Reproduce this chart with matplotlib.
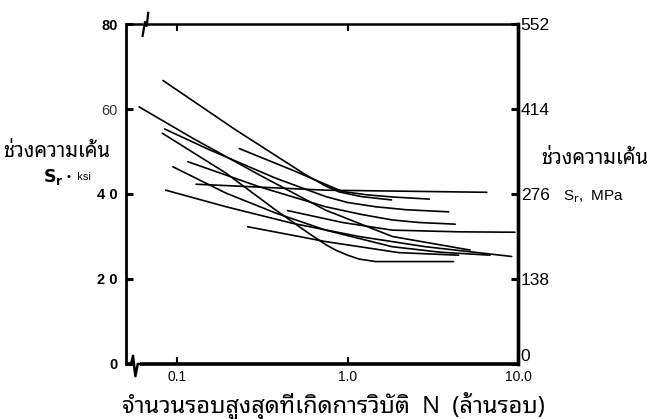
import matplotlib
matplotlib.use("Agg")
import matplotlib.pyplot as plt

plt.rcParams["font.family"] = ["Liberation Sans", "DejaVu Sans"]
THAI = ["Noto Sans Thai Looped", "Loma", "DejaVu Sans"]

# S-N curves: cycles to failure (millions) vs stress range (ksi)
n1 = [0.0825, 0.22, 0.568, 0.75, 0.89, 1.2, 1.81]
s1 = [66.7, 55.1, 44.5, 41.8, 40.5, 39.4, 38.6]
n2 = [0.0597, 0.1235, 0.303, 0.743, 1.83, 5.24]
s2 = [60.5, 53.1, 44.5, 36.2, 30.0, 26.8]
n3 = [0.0843, 0.1546, 0.379, 0.743, 1.0, 1.458, 2.2, 3.92]
s3 = [55.3, 50.4, 43.7, 39.4, 38.0, 37.0, 36.3, 35.8]
n4 = [0.0817, 0.1934, 0.379, 0.594, 0.75, 0.851, 1.0, 1.165, 1.458, 4.19]
s4 = [54.3, 44.9, 36.2, 30.7, 28.0, 26.8, 25.6, 24.7, 24.1, 24.1]
n5 = [0.231, 0.475, 0.93, 1.3, 1.83, 3.02]
s5 = [50.7, 45.6, 40.6, 39.8, 39.3, 38.8]
n6 = [0.1154, 0.303, 0.743, 1.2, 1.825, 2.6, 4.28]
s6 = [47.6, 41.7, 37.0, 35.2, 33.9, 33.3, 32.9]
n7 = [0.0943, 0.1934, 0.379, 0.743, 1.825, 3.5, 6.86]
s7 = [46.4, 40.2, 35.5, 31.5, 27.6, 26.3, 25.6]
n8 = [0.129, 0.743, 6.56]
s8 = [42.3, 40.9, 40.4]
n9 = [0.0855, 0.1934, 0.475, 1.165, 2.86, 9.18]
s9 = [40.9, 37.0, 33.1, 30.0, 27.6, 25.3]
n10 = [0.259, 0.743, 2.0, 4.48]
s10 = [32.3, 28.8, 26.2, 25.6]
n11 = [0.444, 0.931, 1.825, 4.48, 9.6]
s11 = [36.1, 33.3, 31.5, 31.1, 31.0]

curves = [(n1, s1), (n2, s2), (n3, s3), (n4, s4), (n5, s5), (n6, s6),
          (n7, s7), (n8, s8), (n9, s9), (n10, s10), (n11, s11)]

x_ticks = [0.1, 1.0, 10.0]
x_labels = ["0.1", "1.0", "10.0"]
ksi_ticks = [0, 20, 40, 60, 80]
ksi_labels = ["0", "2 0", "4 0", "60", "80"]
mpa_ticks = [0, 138, 276, 414, 552]

fig = plt.figure(figsize=(6.5, 4.19), dpi=100)
ax = fig.add_axes([0.1938, 0.1313, 0.6031, 0.8114])
ax.set_xscale("log")
ax.set_xlim(0.05, 10)
ax.set_ylim(0, 80)

for n, s in curves:
    ax.plot(n, s, color="black", lw=1.2, solid_capstyle="round", solid_joinstyle="round")

# spines: left/right solid, top/bottom drawn by hand so they can carry break marks
for side in ["top", "bottom"]:
    ax.spines[side].set_visible(False)
ax.spines["left"].set_linewidth(2.0)
ax.spines["right"].set_linewidth(2.4)

kw = dict(transform=ax.transAxes, color="black", clip_on=False, solid_capstyle="butt")
ax.plot([0, 0.044], [1, 1], lw=1.8, **kw)
ax.plot([0.054, 1], [1, 1], lw=1.8, **kw)
ax.plot([0.042, 0.0485, 0.053, 0.057], [0.962, 1.006, 0.994, 1.036], lw=1.6, **kw)
ax.plot([0, 0.013], [0, 0], lw=2.6, **kw)
ax.plot([0.036, 1], [0, 0], lw=2.6, **kw)
ax.plot([0.013, 0.018, 0.024, 0.030, 0.036], [0, 0.024, -0.036, 0.0, 0], lw=1.8, **kw)

ax.set_xticks(x_ticks)
ax.set_xticklabels(x_labels, fontsize=10)
ax.minorticks_off()
ax.tick_params(axis="x", which="both", direction="in", length=5, width=1.5,
               top=True, pad=4)
ax.set_yticks(ksi_ticks)
ax.set_yticklabels(ksi_labels, fontsize=10.5, fontweight="bold")
ax.tick_params(axis="y", direction="in", length=5, width=2.2, pad=6)
for lbl in ax.get_yticklabels():
    if lbl.get_text() == "60":
        lbl.set_fontweight("normal")
        lbl.set_color("#333333")

ax2 = ax.twinx()
ax2.set_ylim(0, 552)
ax2.set_yticks(mpa_ticks)
ax2.set_yticklabels([str(v) for v in mpa_ticks], fontsize=12.5)
ax2.tick_params(axis="y", direction="in", length=5, width=2.2, pad=2)
for side in ["top", "bottom", "left"]:
    ax2.spines[side].set_visible(False)
ax2.spines["right"].set_linewidth(2.4)
# the zero label sits just above the corner so it clears "10.0"
ax2.get_yticklabels()[0].set_verticalalignment("bottom")

# axis titles
fig.text(0.088, 0.638, "ช่วงความเค้น", ha="center", va="center", fontsize=14.5, family=THAI)
fig.text(0.098, 0.578, r"$\mathbf{S}_\mathbf{r}$", ha="right", va="center", fontsize=12.5)
fig.text(0.103, 0.578, "•  ksi", ha="left", va="center", fontsize=8)
fig.text(0.915, 0.620, "ช่วงความเค้น", ha="center", va="center", fontsize=14.5, family=THAI)
fig.text(0.866, 0.530, r"S$_\mathrm{r}$,  MPa", ha="left", va="center", fontsize=11)
fig.text(0.513, 0.031, "จำนวนรอบสูงสุดที่เกิดการวิบัติ  N  (ล้านรอบ)", ha="center",
         va="center", fontsize=17, family=THAI)

fig.savefig("out.png", dpi=100)
